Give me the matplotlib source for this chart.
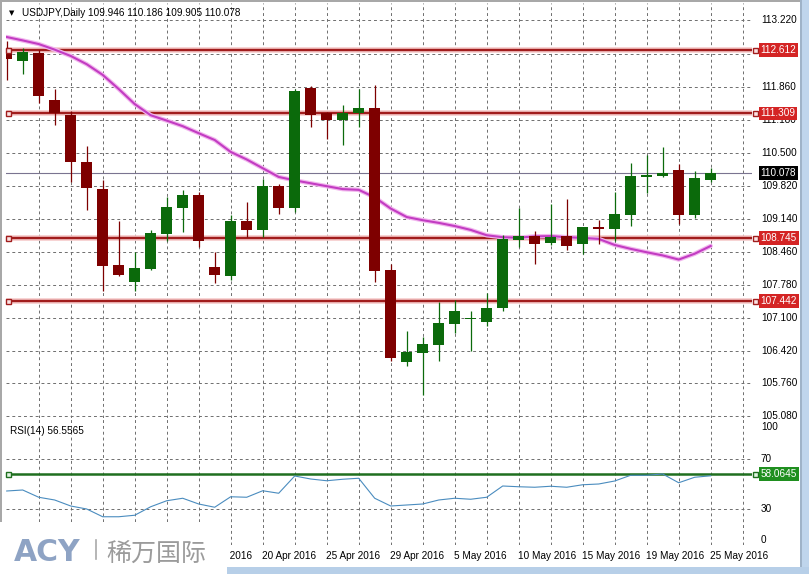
import matplotlib
matplotlib.use('Agg')
import matplotlib.pyplot as plt
from matplotlib import transforms
from matplotlib.patches import Rectangle
import numpy as np

# ---------------- data ----------------
opens  = [112.66, 112.38, 112.56, 111.58, 111.27, 110.30, 109.75, 108.18, 107.83, 108.11,
          108.83, 109.36, 109.62, 108.14, 107.97, 109.09, 108.90, 109.81, 109.36, 111.83,
          111.31, 111.18, 111.31, 111.42, 108.08, 106.19, 106.37, 106.55, 106.98, 107.08,
          107.01, 107.30, 108.71, 108.78, 108.64, 108.78, 108.61, 108.97, 108.92, 109.22,
          110.00, 110.01, 110.14, 109.22, 109.946]
highs  = [112.80, 112.65, 112.61, 111.80, 111.36, 110.64, 109.93, 109.09, 108.45, 108.90,
          109.58, 109.73, 109.69, 108.45, 109.21, 109.48, 109.95, 109.85, 111.80, 111.87,
          111.33, 111.48, 111.80, 111.90, 108.21, 106.82, 106.70, 107.42, 107.47, 107.25,
          107.61, 108.80, 109.37, 108.88, 109.45, 109.54, 108.97, 109.12, 109.69, 110.28,
          110.45, 110.61, 110.26, 110.12, 110.186]
lows   = [111.99, 112.12, 111.52, 111.07, 109.90, 109.31, 107.65, 107.97, 107.66, 108.08,
          108.69, 108.87, 108.56, 107.81, 107.87, 108.76, 108.76, 109.23, 109.28, 111.03,
          110.79, 110.65, 111.03, 107.83, 106.22, 106.10, 105.52, 106.22, 106.78, 106.42,
          106.94, 107.25, 108.55, 108.21, 108.59, 108.50, 108.42, 108.63, 108.69, 109.00,
          109.67, 110.00, 109.04, 109.15, 109.905]
closes = [112.43, 112.58, 111.66, 111.32, 110.31, 109.77, 108.16, 107.99, 108.13, 108.85,
          109.38, 109.62, 108.68, 107.99, 109.09, 108.90, 109.81, 109.36, 111.77, 111.27,
          111.18, 111.31, 111.41, 108.06, 106.27, 106.39, 106.56, 106.99, 107.25, 107.10,
          107.31, 108.72, 108.78, 108.63, 108.76, 108.57, 108.96, 108.92, 109.23, 110.01,
          110.05, 110.08, 109.22, 109.97, 110.078]
ma_values = [112.88, 112.81, 112.735, 112.62, 112.49, 112.32, 112.10, 111.81, 111.50, 111.27,
             111.16, 111.045, 110.90, 110.76, 110.515, 110.36, 110.18, 110.00, 109.93, 109.87,
             109.81, 109.75, 109.735, 109.58, 109.35, 109.175, 109.11, 109.055, 108.99, 108.91,
             108.80, 108.76, 108.75, 108.777, 108.783, 108.76, 108.746, 108.725, 108.60, 108.52,
             108.45, 108.385, 108.30, 108.42, 108.58]
rsi_values = [44.4, 45.2, 39.4, 37.2, 32.4, 30.0, 23.8, 23.8, 25.0, 31.8,
              36.6, 38.6, 34.0, 31.4, 39.8, 39.4, 44.6, 42.6, 56.4, 54.0,
              52.6, 53.8, 54.6, 38.6, 32.4, 33.2, 34.0, 37.2, 38.6, 37.8,
              39.4, 48.4, 47.8, 47.4, 48.2, 47.4, 49.4, 50.0, 52.4, 57.0,
              57.0, 58.0, 51.0, 55.4, 56.5565]
levels = [112.612, 111.309, 108.745, 107.442]
level_labels = ['112.612', '111.309', '108.745', '107.442']
rsi_level = 58.0645
rsi_level_label = '58.0645'
last_price = 110.078
last_price_label = '110.078'
price_grid = [113.22, 112.54, 111.86, 111.18, 110.50, 109.82, 109.14, 108.46,
              107.78, 107.10, 106.42, 105.76, 105.08]
price_grid_labels = ['113.220', '112.540', '111.860', '111.180', '110.500', '109.820',
                     '109.140', '108.460', '107.780', '107.100', '106.420', '105.760', '105.080']
rsi_grid = [70, 30]
rsi_ticks = [100, 70, 30, 0]
date_idx = [12, 16, 20, 24, 28, 32, 36, 40, 44]
date_labels = ['15 Apr 2016', '20 Apr 2016', '25 Apr 2016', '29 Apr 2016', '5 May 2016',
               '10 May 2016', '15 May 2016', '19 May 2016', '25 May 2016']
title_text = 'USDJPY,Daily 109.946 110.186 109.905 110.078'
rsi_title = 'RSI(14) 56.5565'

# ---------------- figure ----------------
W, H = 809, 574
plt.rcParams['font.family'] = ['Liberation Sans', 'DejaVu Sans']
fig = plt.figure(figsize=(W / 100, H / 100), dpi=100)
fig.patch.set_facecolor('white')

def frect(l, t, r, b):
    return [l / W, 1 - b / H, (r - l) / W, (b - t) / H]

left_px, right_px = 5.5, 752
x0_px, step_px = 6.7, 16.0
xlim = ((left_px - x0_px) / step_px, (right_px - x0_px) / step_px)

ax = fig.add_axes(frect(left_px, 3, right_px, 418))
axr = fig.add_axes(frect(left_px, 419, right_px, 545))
for a in (ax, axr):
    a.set_xlim(*xlim)
    a.set_xticks([]); a.set_yticks([])
    for s in a.spines.values():
        s.set_visible(False)
    a.patch.set_alpha(0)
ax.set_ylim(105.039, 113.580)
axr.set_ylim(1.2, 102)

ov = fig.add_axes([0, 0, 1, 1])
ov.set_xlim(0, W); ov.set_ylim(H, 0)
ov.axis('off'); ov.patch.set_alpha(0); ov.set_zorder(10)

GRID_C = '#6e6e6e'
dash = (0, (3, 3))
n = len(opens)
idx = np.arange(n)
vgrid = np.arange(2, 47, 2)

# grids
ax.hlines(price_grid, xlim[0], xlim[1], colors=GRID_C, linestyles=dash, lw=0.7, zorder=1)
ax.vlines(vgrid, 105.039, 113.580, colors=GRID_C, linestyles=dash, lw=0.7, zorder=1)
axr.hlines(rsi_grid + [1.6], xlim[0], xlim[1], colors=GRID_C, linestyles=dash, lw=0.7, zorder=1)
axr.vlines(vgrid, 1.2, 102, colors=GRID_C, linestyles=dash, lw=0.7, zorder=1)

# current price line
ax.axhline(last_price, color='#7a7490', lw=0.8, zorder=2)

# level lines
for lv in levels:
    ax.axhline(lv, color='#f6c9c9', lw=4.0, zorder=3)
    ax.axhline(lv, color='#a11d1d', lw=1.7, zorder=3.1)

# MA line
ax.plot(idx, ma_values, color='#f2b6ee', lw=3.2, zorder=4, solid_capstyle='round')
ax.plot(idx, ma_values, color='#c23cc2', lw=1.5, zorder=4.1)

# candles
BULL, BEAR = '#0b6a0b', '#7e0000'
o = np.array(opens); c = np.array(closes); hi = np.array(highs); lo = np.array(lows)
cols = [BULL if cc >= oo else BEAR for oo, cc in zip(o, c)]
ax.vlines(idx, lo, hi, colors=cols, lw=0.9, zorder=5)
bottoms = np.minimum(o, c)
heights = np.maximum(np.abs(c - o), 0.025)
ax.bar(idx, heights, bottom=bottoms, width=0.69, color=cols, linewidth=0, zorder=6)

# RSI
axr.axhline(rsi_level, color='#1f6f1f', lw=1.8, zorder=3)
axr.plot(idx, rsi_values, color='#4a8cbf', lw=0.8, zorder=4)

# ---------- overlay text and labels ----------
tm = transforms.blended_transform_factory(ov.transData, ax.transData)
tr = transforms.blended_transform_factory(ov.transData, axr.transData)
td = transforms.blended_transform_factory(axr.transData, ov.transData)
FS = 7.2

for p, lab in zip(price_grid, price_grid_labels):
    ov.text(761, p, lab, transform=tm, fontsize=FS, va='center', ha='left', color='black', zorder=1)

def box_label(y, text, trans, fc):
    ov.text(760.5, y, text, transform=trans, fontsize=FS, va='center', ha='left', color='white',
            zorder=5, bbox=dict(boxstyle='square,pad=0.18', fc=fc, ec='none'))

for lv, lab in zip(levels, level_labels):
    box_label(lv, lab, tm, '#d42424')
    ov.plot([8, 755], [lv, lv], transform=tm, ls='none', marker='s', ms=3.6,
            mfc='#fbe3e3', mec='#a11d1d', mew=1.0, zorder=4)
box_label(last_price, last_price_label, tm, '#000000')
box_label(rsi_level, rsi_level_label, tr, '#1f8f1f')
ov.plot([8, 755], [rsi_level, rsi_level], transform=tr, ls='none', marker='s', ms=3.6,
        mfc='#e3f5e3', mec='#1f6f1f', mew=1.0, zorder=4)

for v in rsi_ticks:
    va = 'top' if v == 100 else ('bottom' if v == 0 else 'center')
    yy = 100 if v == 100 else (1.2 if v == 0 else v)
    ov.text(761, yy, str(v), transform=tr, fontsize=FS, va=va, ha='left', color='black')

for i, lab in zip(date_idx, date_labels):
    ov.text(i - 0.06, 556, lab, transform=td, fontsize=FS, va='center', ha='left', color='black',
            zorder=1)

ov.text(12, 13, '\u25BC', fontsize=5, va='center', ha='center', color='black',
        family=['DejaVu Sans'])
ov.text(22, 13, title_text, fontsize=FS, va='center', ha='left', color='black')
ov.text(10, 431, rsi_title, fontsize=FS, va='center', ha='left', color='black')

# window frame
ov.add_patch(Rectangle((0, 0), W, 1.6, color='#a8a8a8', lw=0, zorder=0))
ov.add_patch(Rectangle((0, 0), 2.2, H, color='#a8a8a8', lw=0, zorder=0))
ov.add_patch(Rectangle((801, 0), 8, H, color='#bfd5ec', lw=0, zorder=0))
ov.add_patch(Rectangle((800.5, 0), 1.2, H, color='#9fb3c8', lw=0, zorder=0))
ov.add_patch(Rectangle((226, 567), W - 226, 7, color='#b7cfe8', lw=0, zorder=0))

# logo
ov.add_patch(Rectangle((0, 522), 227, H - 522, color='white', lw=0, zorder=8))
ov.text(14, 561, 'ACY', fontsize=21.5, fontweight='bold', color='#8ea3c4',
        va='baseline', ha='left', family=['DejaVu Sans'], zorder=9)
ov.plot([96.5, 96.5], [540, 559], color='#a9a9a9', lw=1.2, zorder=9)
ov.text(106, 561, '稀万国际', fontsize=18, color='#9b9b9b', va='baseline', ha='left',
        family=['Noto Sans CJK SC'], zorder=9)

fig.savefig('out.png', dpi=100, facecolor='white')
